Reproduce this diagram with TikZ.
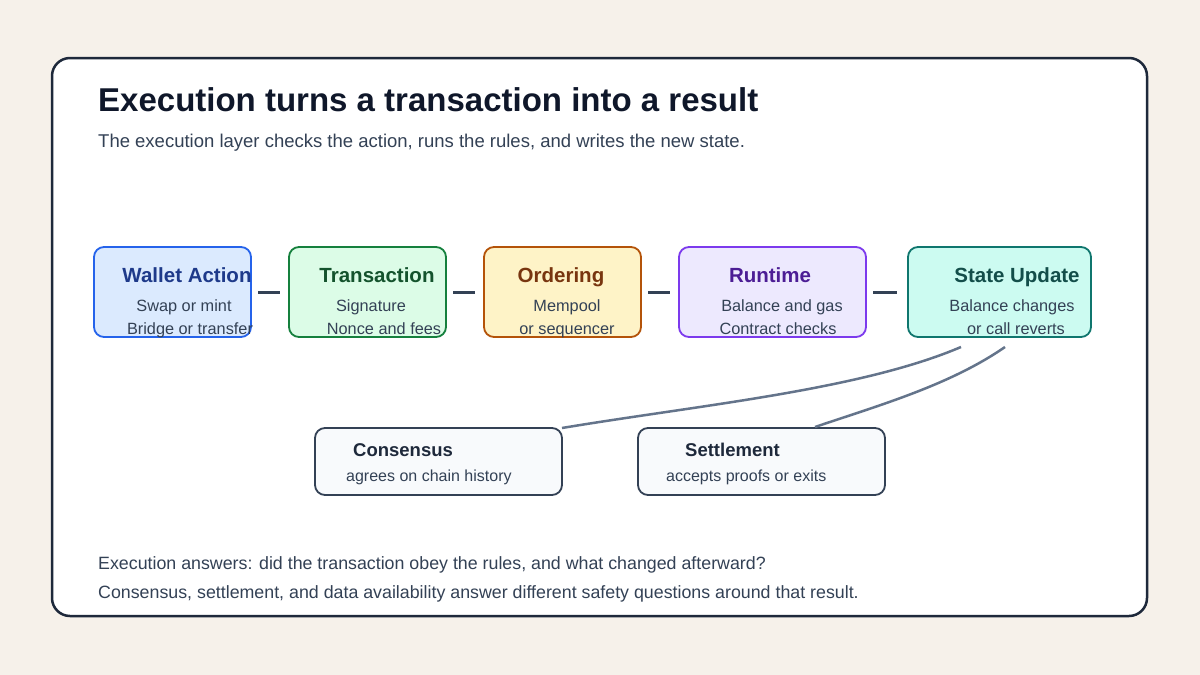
\documentclass[tikz,border=0pt]{standalone}
\usepackage{fontspec}
\setmainfont{Liberation Sans}
\begin{document}
\begin{tikzpicture}[x=1pt,y=-1pt,
  box/.style={draw, rounded corners=10pt, line width=1.8pt},
  ttl/.style={font=\fontsize{20.5}{24}\selectfont\bfseries, anchor=base},
  ln/.style={font=\fontsize{16.3}{19}\selectfont, text=body, anchor=base},
  link/.style={draw=dashc, line width=3pt},
  curve/.style={draw=curvec, line width=2.5pt}]
\definecolor{bg}{HTML}{F6F1EA}
\definecolor{frame}{HTML}{1E293B}
\definecolor{body}{HTML}{334155}
\definecolor{dashc}{HTML}{334155}
\definecolor{curvec}{HTML}{64748B}
\definecolor{headc}{HTML}{0F172A}
\fill[bg] (0,0) rectangle (1200,675);
\useasboundingbox (0,0) rectangle (1200,675);
\draw[frame, fill=white, line width=2.5pt, rounded corners=18pt] (52,58) rectangle (1147,616);
\node[anchor=base west, inner sep=0pt, text=headc, font=\fontsize{33}{38}\selectfont\bfseries] (title) at (98,111) {Execution turns a transaction into a result};
\node[anchor=base west, inner sep=0pt, text=body, font=\fontsize{18.5}{22}\selectfont] (sub) at (98,147) {The execution layer checks the action, runs the rules, and writes the new state.};
% boxes
\definecolor{f1}{HTML}{DBEAFE}\definecolor{s1}{HTML}{2563EB}\definecolor{t1}{HTML}{1E3A8A}
\definecolor{f2}{HTML}{DCFCE7}\definecolor{s2}{HTML}{15803D}\definecolor{t2}{HTML}{14532D}
\definecolor{f3}{HTML}{FEF3C7}\definecolor{s3}{HTML}{B45309}\definecolor{t3}{HTML}{78350F}
\definecolor{f4}{HTML}{EDE9FE}\definecolor{s4}{HTML}{7C3AED}\definecolor{t4}{HTML}{4C1D95}
\definecolor{f5}{HTML}{CCFBF1}\definecolor{s5}{HTML}{0F766E}\definecolor{t5}{HTML}{134E4A}
\definecolor{f6}{HTML}{F8FAFC}\definecolor{s6}{HTML}{334155}\definecolor{t6}{HTML}{1E293B}
\path[box, fill=f1, draw=s1] (94,247) rectangle (251,337);
\node[minimum width=157pt, minimum height=90pt] (wa) at (172.5,292) {};
\node[ttl, text=t1] at (187,282) {Wallet Action};
\node[ln] at (184,311) {Swap or mint};
\node[ln] at (190,334) {Bridge or transfer};
\path[box, fill=f2, draw=s2] (289,247) rectangle (446,337);
\node[minimum width=157pt, minimum height=90pt] (tx) at (367.5,292) {};
\node[ttl, text=t2] at (377,282) {Transaction};
\node[ln] at (371,311) {Signature};
\node[ln] at (384,334) {Nonce and fees};
\path[box, fill=f3, draw=s3] (484,247) rectangle (641,337);
\node[minimum width=157pt, minimum height=90pt] (ord) at (562.5,292) {};
\node[ttl, text=t3] at (561,282) {Ordering};
\node[ln] at (567,311) {Mempool};
\node[ln] at (567,334) {or sequencer};
\path[box, fill=f4, draw=s4] (679,247) rectangle (866,337);
\node[minimum width=187pt, minimum height=90pt] (rt) at (772.5,292) {};
\node[ttl, text=t4] at (770,282) {Runtime};
\node[ln] at (782,311) {Balance and gas};
\node[ln] at (778,334) {Contract checks};
\path[box, fill=f5, draw=s5] (908,247) rectangle (1091,337);
\node[minimum width=183pt, minimum height=90pt] (su) at (999.5,292) {};
\node[ttl, text=t5] at (1017,282) {State Update};
\node[ln] at (1012,311) {Balance changes};
\node[ln] at (1016,334) {or call reverts};
% links
\coordinate (d1a) at (258,292); \coordinate (d1b) at (280,292);
\coordinate (d2a) at (453,292); \coordinate (d2b) at (475,292);
\coordinate (d3a) at (648,292); \coordinate (d3b) at (670,292);
\coordinate (d4a) at (873,292); \coordinate (d4b) at (897,292);
\draw[link] (d1a) -- (d1b);
\draw[link] (d2a) -- (d2b);
\draw[link] (d3a) -- (d3b);
\draw[link] (d4a) -- (d4b);
% lower boxes
\path[box, fill=f6, draw=s6] (315,428) rectangle (562,495);
\node[minimum width=247pt, minimum height=67pt] (cons) at (438.5,461.5) {};
\node[anchor=base west, inner sep=0pt, font=\fontsize{18.5}{22}\selectfont\bfseries, text=t6] at (353,456) {Consensus};
\node[anchor=base west, inner sep=0pt, font=\fontsize{16}{19}\selectfont, text=body] at (346,481) {agrees on chain history};
\path[box, fill=f6, draw=s6] (638,428) rectangle (885,495);
\node[minimum width=247pt, minimum height=67pt] (set) at (761.5,461.5) {};
\node[anchor=base west, inner sep=0pt, font=\fontsize{18.5}{22}\selectfont\bfseries, text=t6] at (685,456) {Settlement};
\node[anchor=base west, inner sep=0pt, font=\fontsize{16}{19}\selectfont, text=body] at (666,481) {accepts proofs or exits};
% curves
\coordinate (c1s) at (961,347); \coordinate (c1e) at (562,428);
\coordinate (c2s) at (1005,347); \coordinate (c2e) at (815,427);
\draw[curve] (c1s) .. controls (860,390) and (700,405) .. (c1e);
\draw[curve] (c2s) .. controls (950,385) and (880,405) .. (c2e);
% footer
\node[anchor=base west, inner sep=0pt, text=body, font=\fontsize{17.8}{21}\selectfont] (f1n) at (98,569) {Execution answers: did the transaction obey the rules, and what changed afterward?};
\node[anchor=base west, inner sep=0pt, text=body, font=\fontsize{17.8}{21}\selectfont] (f2n) at (98,598) {Consensus, settlement, and data availability answer different safety questions around that result.};
\end{tikzpicture}
\end{document}
